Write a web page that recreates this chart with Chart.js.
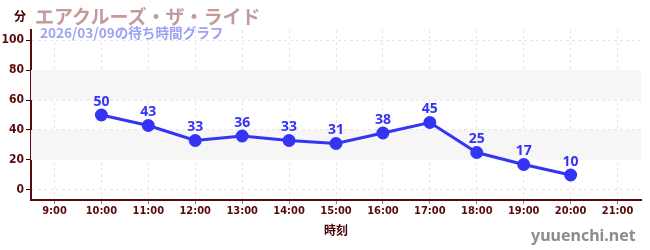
<!DOCTYPE html>
<html><head><meta charset="utf-8">
<script src="https://cdn.jsdelivr.net/npm/chart.js@4/dist/chart.umd.min.js"></script>
<style>
html,body{margin:0;padding:0;background:#fff;}
#wrap{position:relative;width:650px;height:250px;}
canvas{position:absolute;left:0;top:0;}
.t{position:absolute;white-space:nowrap;line-height:1;}
</style></head><body>
<div id="wrap">
<canvas id="c" width="650" height="250"></canvas>
<div class="t" style="left:14px;top:7px;font:bold 12px 'Noto Sans CJK JP';color:#400;">分</div>
<div class="t" style="left:35px;top:2px;font:bold 19px 'Noto Sans CJK JP';color:#c49a9a;">エアクルーズ・ザ・ライド</div>
<div class="t" style="left:40px;top:22px;font:bold 13.6px 'Noto Sans CJK JP';color:#a0a0f5;">2026/03/09の待ち時間グラフ</div>
<div class="t" style="left:531px;top:224px;font:bold 16px 'Noto Sans';color:#8c8c8c;">yuuenchi.net</div>
</div>
<script>
const categories = ["9:00","10:00","11:00","12:00","13:00","14:00","15:00","16:00","17:00","18:00","19:00","20:00","21:00"];
const waitTimes = [null,50,43,33,36,33,31,38,45,25,17,10,null];
const yTicks = [0,10,20,30,40,50,60,70,80,90,100];
const bands = [[20,40],[60,80]];
const xTitle = "時刻";

const lineColor = "#3434f5";
const axisColor = "#5a0a0a";

const bandPlugin = {
  id:'bands',
  beforeDatasetsDraw(chart){
    const {ctx, chartArea:a, scales:{y}} = chart;
    ctx.save();
    ctx.fillStyle = '#f6f6f6';
    bands.forEach(([lo,hi])=>{
      const y1 = y.getPixelForValue(hi), y2 = y.getPixelForValue(lo);
      ctx.fillRect(a.left, y1, a.right-a.left, y2-y1);
    });
    ctx.restore();
  }
};
const labelPlugin = {
  id:'vlabels',
  afterDatasetsDraw(chart){
    const {ctx} = chart;
    const meta = chart.getDatasetMeta(0);
    ctx.save();
    ctx.font = "bold 14px 'Noto Sans'";
    ctx.fillStyle = lineColor;
    ctx.textAlign = 'center';
    ctx.textBaseline = 'bottom';
    meta.data.forEach((pt,i)=>{
      const v = waitTimes[i];
      if (v==null) return;
      ctx.fillText(String(v), pt.x, pt.y-6);
    });
    ctx.restore();
  }
};

new Chart(document.getElementById('c'), {
  type:'line',
  data:{labels:categories, datasets:[{
    data:waitTimes, borderColor:lineColor, backgroundColor:lineColor,
    borderWidth:3, pointRadius:5, pointHoverRadius:5, tension:0, spanGaps:false
  }]},
  options:{
    responsive:false, animation:false,
    layout:{padding:{top:30,right:9,left:0,bottom:12}},
    plugins:{legend:{display:false}, tooltip:{enabled:false}},
    scales:{
      x:{
        offset:true,
        grid:{offset:false, color:'#e6e6e6', tickColor:'#888', tickLength:4, lineWidth:1},
        border:{color:axisColor, width:2, dash:[3,3]},
        ticks:{color:axisColor, font:{family:"'DejaVu Sans Condensed'", size:11, weight:'bold'}, padding:1, maxRotation:0, autoSkip:false},
        title:{display:true, text:xTitle, color:'#400', font:{family:"'Noto Sans CJK JP'", size:12, weight:'bold'}, padding:{top:4,bottom:0}},
        afterFit(s){ s.height = 38; }
      },
      y:{
        min:-6.67, max:106.67,
        afterBuildTicks(s){ s.ticks = yTicks.map(v=>({value:v})); },
        grid:{
          color:(c)=> (c.tick && c.tick.value%20===0) ? '#e6e6e6' : 'rgba(0,0,0,0)',
          tickColor:(c)=> (c.tick && c.tick.value%20===0) ? '#111' : '#d01010',
          tickLength:5, lineWidth:1
        },
        border:{color:axisColor, width:2, dash:[3,3]},
        ticks:{color:axisColor, font:{family:"'DejaVu Sans Condensed'", size:12, weight:'bold'}, padding:2,
          callback:(v)=> v%20===0 ? String(v) : ''},
        afterFit(s){ s.width = 31; }
      }
    }
  },
  plugins:[bandPlugin,labelPlugin]
});
</script>
</body></html>
